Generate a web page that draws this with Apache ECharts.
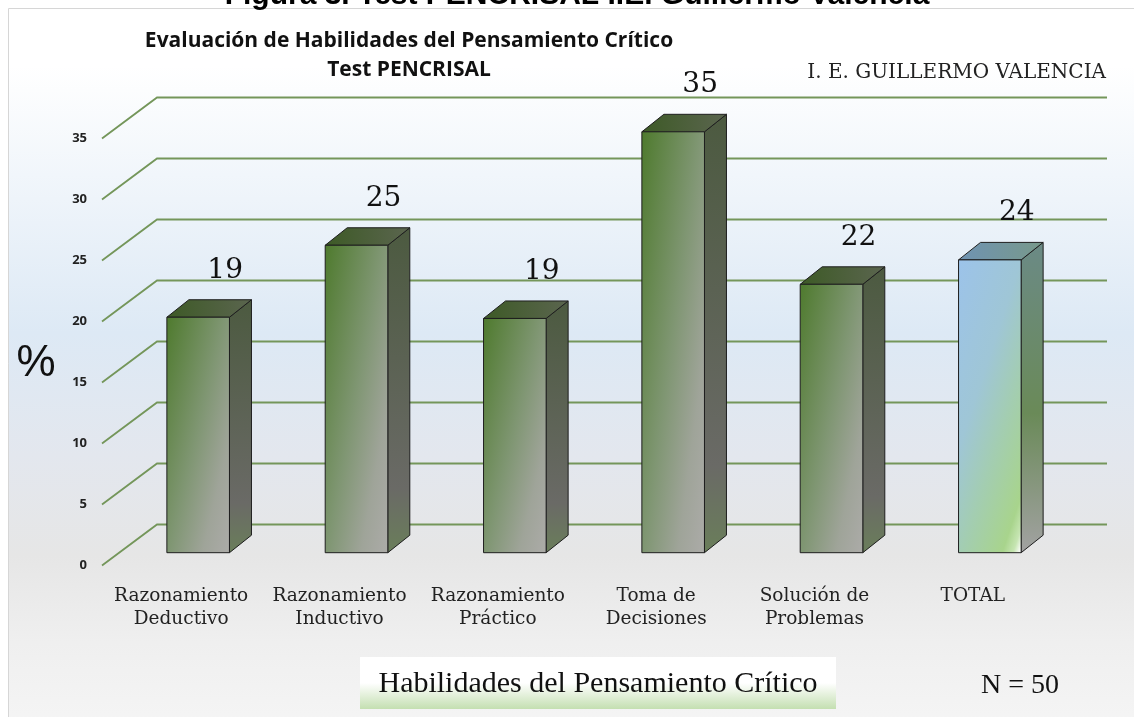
<!DOCTYPE html>
<html>
<head>
<meta charset="utf-8">
<script src="https://cdn.jsdelivr.net/npm/echarts@6/dist/echarts.min.js"></script>
<style>
  html, body { margin: 0; padding: 0; background: #fff; }
  #chart { width: 1134px; height: 717px; }
</style>
</head>
<body>
<div id="chart"></div>
<script>
// categories and values
var categories = ['Razonamiento\nDeductivo', 'Razonamiento\nInductivo', 'Razonamiento\nPráctico',
    'Toma de\nDecisiones', 'Solución de\nProblemas', 'TOTAL'];
var values = [19.3, 25.2, 19.2, 34.5, 22.0, 24.0];
var yTicks = [0, 5, 10, 15, 20, 25, 30, 35];

// fake 3d geometry (pixels)
var WALL = [55, -41];      // floor front edge -> back wall
var FRONT = [17, -12.8];   // floor front edge -> bar front face
var DEPTH = [22, -17.5];   // bar depth
var BAR_W = 62.6;
var serif = '"DejaVu Serif", serif';

var chart = echarts.init(document.getElementById('chart'));

// gradient end point (bbox units) so that top-right gets `a` and bottom-left gets `b`
function gradEnd(w, h, a, b) {
    var S = 1 / (a * a / (w * w) + b * b / (h * h));
    return [a * S / (w * w), b * S / (h * h)];
}

function renderGrid(params, api) {
    var cs = params.coordSys;
    var y = api.coord([0, api.value(1)])[1];
    return {
        type: 'polyline',
        shape: {
            points: [[cs.x, y], [cs.x + WALL[0], y + WALL[1]], [cs.x + cs.width + WALL[0], y + WALL[1]]]
        },
        style: { stroke: '#74965a', lineWidth: 1.8, fill: null }
    };
}

function renderBar(params, api) {
    var idx = api.value(0);
    var v = api.value(1);
    var top = api.coord([idx, v]);
    var base = api.coord([idx, 0]);
    var cx = top[0] + FRONT[0];
    var x0 = cx - BAR_W / 2, x1 = cx + BAR_W / 2;
    var yT = top[1] + FRONT[1], yB = base[1] + FRONT[1];
    var h = yB - yT;
    var dx = DEPTH[0], dy = DEPTH[1];
    var total = idx === categories.length - 1;
    var G = echarts.graphic.LinearGradient;
    var e;

    var frontFill;
    if (total) {
        e = gradEnd(BAR_W, h, 0.35, 0.55);
        frontFill = new G(0, 0, e[0], e[1], [
            { offset: 0, color: '#9cc3ea' }, { offset: 0.35, color: '#9fc6d6' },
            { offset: 0.55, color: '#a3cdb2' }, { offset: 0.78, color: '#a8d48c' },
            { offset: 0.84, color: '#c6e5b2' }, { offset: 0.88, color: '#ffffff' }]);
    } else {
        e = gradEnd(BAR_W, h, 0.55, 0.5);
        frontFill = new G(0, 0, e[0], e[1], [
            { offset: 0, color: '#4e7a2d' }, { offset: 0.5, color: '#7f9672' },
            { offset: 0.8, color: '#9fa499' }, { offset: 1, color: '#aaaaa6' }]);
    }
    var sideFill = total
        ? new G(0, 0, 0, 1, [
            { offset: 0, color: '#6b8a86' }, { offset: 0.55, color: '#6a8a58' }, { offset: 1, color: '#a2a2a2' }])
        : new G(0, 0, 0, 1, [
            { offset: 0, color: '#4c5a40' }, { offset: 0.8, color: '#6a6a66' }, { offset: 1, color: '#6a7e5a' }]);
    var topFill = total
        ? new G(0, 0, 1, 0, [{ offset: 0, color: '#6f93b3' }, { offset: 1, color: '#78998a' }])
        : new G(0, 0, 1, 0, [{ offset: 0, color: '#3d5a26' }, { offset: 1, color: '#5b654f' }]);
    var stroke = { stroke: '#1e1e1e', lineWidth: 1 };

    return {
        type: 'group',
        children: [
            {
                // soft floor shadow, mostly hidden behind the bar
                type: 'ellipse',
                shape: { cx: cx + 12, cy: yB - 10, rx: 52, ry: 8 },
                style: {
                    fill: new echarts.graphic.RadialGradient(0.5, 0.5, 0.5, [
                        { offset: 0, color: 'rgba(0,0,0,0.6)' }, { offset: 1, color: 'rgba(0,0,0,0)' }])
                }
            },
            {
                type: 'polygon',
                shape: { points: [[x1, yT], [x1 + dx, yT + dy], [x1 + dx, yB + dy], [x1, yB]] },
                style: Object.assign({ fill: sideFill }, stroke)
            },
            {
                type: 'polygon',
                shape: { points: [[x0, yT], [x0 + dx, yT + dy], [x1 + dx, yT + dy], [x1, yT]] },
                style: Object.assign({ fill: topFill }, stroke)
            },
            {
                type: 'rect',
                shape: { x: x0, y: yT, width: BAR_W, height: h },
                style: Object.assign({ fill: frontFill }, stroke)
            },
            {
                type: 'text',
                x: cx + 27, y: yT - 47,
                style: {
                    text: String(Math.round(v)), fill: '#111', font: '28px ' + serif,
                    align: 'center', verticalAlign: 'middle'
                }
            }
        ]
    };
}

chart.setOption({
    animation: false,
    graphic: [
        {
            type: 'rect', z: -10,
            shape: { x: 8.5, y: 8.5, width: 1140, height: 720 },
            style: {
                stroke: '#d6d6d6', lineWidth: 1,
                fill: new echarts.graphic.LinearGradient(0, 0, 0, 1, [
                    { offset: 0, color: '#ffffff' }, { offset: 0.08, color: '#ffffff' },
                    { offset: 0.45, color: '#dde9f5' }, { offset: 0.62, color: '#e3e7ee' },
                    { offset: 0.76, color: '#e6e6e6' }, { offset: 0.88, color: '#efefef' },
                    { offset: 1, color: '#f5f5f5' }])
            }
        },
        {
            // caption above the frame, cut off by the top edge
            type: 'text', x: 577, y: -19,
            style: {
                text: 'Figura 3. Test PENCRISAL I.E. Guillermo Valencia',
                font: 'bold 30px "Liberation Sans", Arial, sans-serif', fill: '#000',
                align: 'center', verticalAlign: 'top'
            }
        },
        {
            type: 'text', x: 409, y: 41,
            style: {
                text: 'Evaluación de Habilidades del Pensamiento Crítico',
                font: 'bold 21px "Open Sans", sans-serif', fill: '#111',
                align: 'center', verticalAlign: 'middle'
            }
        },
        {
            type: 'text', x: 409, y: 70,
            style: {
                text: 'Test PENCRISAL', font: 'bold 21px "Open Sans", sans-serif', fill: '#111',
                align: 'center', verticalAlign: 'middle'
            }
        },
        {
            type: 'text', x: 1106, y: 73,
            style: {
                text: 'I. E. GUILLERMO VALENCIA', font: '20px ' + serif, fill: '#222',
                align: 'right', verticalAlign: 'middle'
            }
        },
        {
            type: 'text', x: 36, y: 364,
            style: {
                text: '%', font: '44px "Liberation Sans", Arial, sans-serif', fill: '#111',
                align: 'center', verticalAlign: 'middle'
            }
        },
        {
            type: 'rect', z: -5,
            shape: { x: 360, y: 657, width: 476, height: 52 },
            style: {
                fill: new echarts.graphic.LinearGradient(0, 0, 0, 1, [
                    { offset: 0, color: '#ffffff' }, { offset: 0.5, color: '#ffffff' },
                    { offset: 1, color: '#c4dfb1' }])
            }
        },
        {
            type: 'text', x: 598, y: 684,
            style: {
                text: 'Habilidades del Pensamiento Crítico', font: '30px "Liberation Serif", serif', fill: '#111',
                align: 'center', verticalAlign: 'middle'
            }
        },
        {
            type: 'text', x: 1020, y: 686,
            style: {
                text: 'N = 50', font: '28px "Liberation Serif", serif', fill: '#111',
                align: 'center', verticalAlign: 'middle'
            }
        }
    ],
    grid: { left: 102, right: 82, top: 138.5, bottom: 151.5 },
    xAxis: {
        type: 'category',
        data: categories,
        axisLine: { show: false },
        axisTick: { show: false },
        axisLabel: {
            interval: 0, margin: 19, color: '#222',
            fontFamily: 'DejaVu Serif', fontSize: 18.5, lineHeight: 23
        }
    },
    yAxis: {
        type: 'value',
        min: 0, max: 35, interval: 5,
        axisLine: { show: false },
        axisTick: { show: false },
        splitLine: { show: false },
        axisLabel: {
            margin: 15, color: '#222',
            fontFamily: 'Open Sans', fontWeight: 'bold', fontSize: 13
        }
    },
    series: [
        {
            type: 'custom',
            renderItem: renderGrid,
            data: yTicks.map(function (t) { return [0, t]; }),
            silent: true,
            z: 1
        },
        {
            type: 'custom',
            renderItem: renderBar,
            data: values.map(function (v, i) { return [i, v]; }),
            z: 3
        }
    ]
});
</script>
</body>
</html>
